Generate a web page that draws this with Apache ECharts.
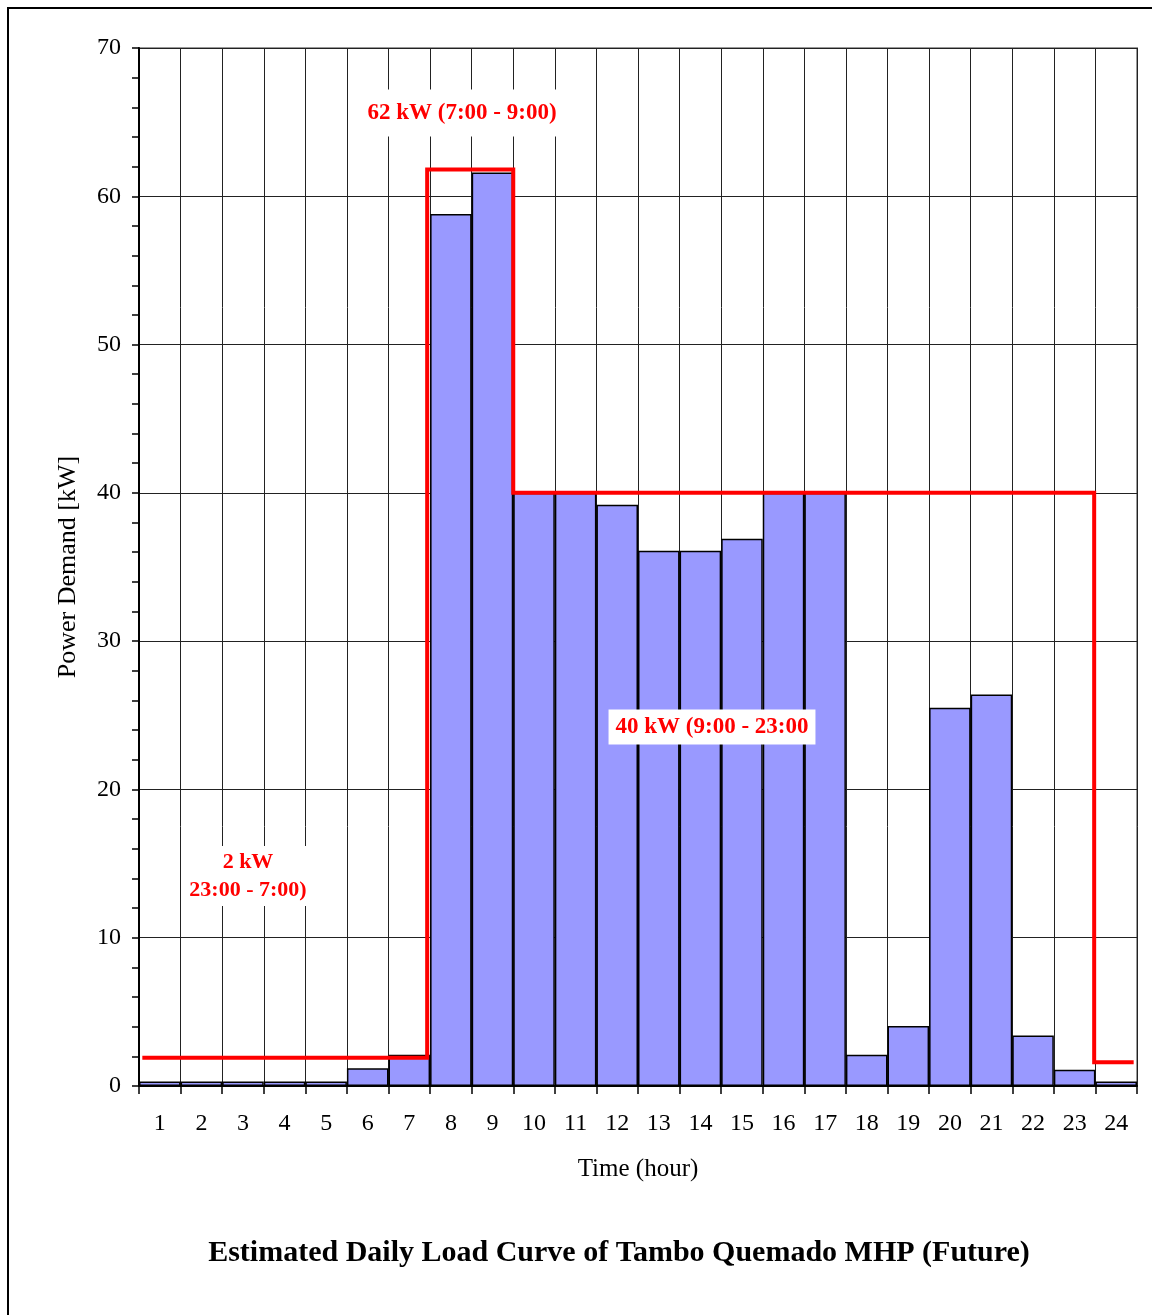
<!DOCTYPE html>
<html>
<head>
<meta charset="utf-8">
<script src="https://cdn.jsdelivr.net/npm/echarts@6/dist/echarts.min.js"></script>
<style>
  html, body { margin: 0; padding: 0; background: #fff; }
  #chart { width: 1152px; height: 1315px; }
</style>
</head>
<body>
<div id="chart"></div>
<script>
// hours of the day and estimated demand per hour [kW]
const hours = ['1','2','3','4','5','6','7','8','9','10','11','12','13','14','15','16','17','18','19','20','21','22','23','24'];
const demandKw = [0.3, 0.3, 0.3, 0.3, 0.3, 1.2, 2.1, 58.8, 61.6, 40, 40, 39.2, 36.1, 36.1, 36.9, 40, 40, 2.1, 4.05, 25.5, 26.4, 3.4, 1.1, 0.3];

// supply steps (red line), x in hours from 0 to 24
const stepHours = [0.08, 6.93, 6.93, 9, 9, 22.97, 22.97, 23.92];
const stepKw = [1.9, 1.9, 61.8, 61.8, 40, 40, 1.6, 1.6];

const yTicks = [0, 10, 20, 30, 40, 50, 60, 70];

const serif = '"Liberation Serif", "DejaVu Serif", serif';
const chart = echarts.init(document.getElementById('chart'));

chart.setOption({
  backgroundColor: '#fff',
  animation: false,
  title: {
    text: 'Estimated Daily Load Curve of Tambo Quemado MHP (Future)',
    left: 614,
    textAlign: 'center',
    top: 1233,
    textStyle: { fontFamily: serif, fontSize: 30, fontWeight: 'bold', color: '#000' }
  },
  grid: {
    left: 139, right: 15, top: 48, bottom: 229,
    show: true, borderColor: '#999', borderWidth: 2, backgroundColor: '#fff'
  },
  xAxis: [
    {
      type: 'category',
      data: hours,
      name: 'Time (hour)',
      nameLocation: 'middle',
      nameGap: 71,
      nameTextStyle: { fontFamily: serif, fontSize: 25, color: '#000' },
      axisLine: { lineStyle: { color: '#000', width: 2 } },
      axisTick: { show: true, interval: 0, length: 8, lineStyle: { color: '#000', width: 1.5 } },
      axisLabel: { interval: 0, margin: 26, fontFamily: serif, fontSize: 24, color: '#000' },
      splitLine: { show: true, interval: 0, lineStyle: { color: '#222', width: 1 } }
    },
    {
      type: 'value',
      min: 0, max: 24,
      show: false
    }
  ],
  yAxis: {
    type: 'value',
    min: 0, max: 70, interval: 10,
    name: 'Power Demand [kW]',
    nameLocation: 'middle',
    nameGap: 58,
    nameTextStyle: { fontFamily: serif, fontSize: 26, color: '#000' },
    axisLine: { show: true, lineStyle: { color: '#000', width: 2 } },
    axisTick: { show: true, length: 7, lineStyle: { color: '#000', width: 1.5 } },
    minorTick: { show: true, splitNumber: 5, length: 7, lineStyle: { color: '#000', width: 1.5 } },
    axisLabel: {
      margin: 18, fontFamily: serif, fontSize: 24, color: '#000',
      formatter: v => (yTicks.includes(v) ? String(v) : '')
    },
    splitLine: { show: true, lineStyle: { color: '#222', width: 1 } }
  },
  series: [
    {
      type: 'bar',
      data: demandKw,
      xAxisIndex: 0,
      barCategoryGap: '0%',
      itemStyle: { color: '#9999ff', borderColor: '#000', borderWidth: 1.5 },
      z: 2
    },
    {
      type: 'line',
      xAxisIndex: 1,
      data: stepHours.map((h, i) => [h, stepKw[i]]),
      symbol: 'none',
      lineStyle: { color: '#ff0000', width: 4, join: 'miter' },
      z: 3
    }
  ],
  graphic: [
    {
      type: 'rect',
      shape: { x: 8, y: 8, width: 1300, height: 1400 },
      style: { fill: 'none', stroke: '#000', lineWidth: 2 },
      silent: true
    },
    {
      type: 'text', x: 462, y: 113, z: 10,
      style: {
        text: '62 kW (7:00 - 9:00)', align: 'center', verticalAlign: 'middle',
        font: 'bold 23px ' + serif, fill: '#ff0000',
        backgroundColor: '#fff', padding: [12, 6, 12, 6]
      }
    },
    {
      type: 'text', x: 712, y: 727, z: 10,
      style: {
        text: '40 kW (9:00 - 23:00', align: 'center', verticalAlign: 'middle',
        font: 'bold 23px ' + serif, fill: '#ff0000',
        backgroundColor: '#fff', padding: [6, 7, 6, 7]
      }
    },
    {
      type: 'text', x: 248, y: 876, z: 10,
      style: {
        text: '2 kW\n23:00 - 7:00)', align: 'center', verticalAlign: 'middle',
        font: 'bold 22px ' + serif, fill: '#ff0000', lineHeight: 28,
        backgroundColor: '#fff', padding: [2, 6, 2, 6]
      }
    }
  ]
});
</script>
</body>
</html>
